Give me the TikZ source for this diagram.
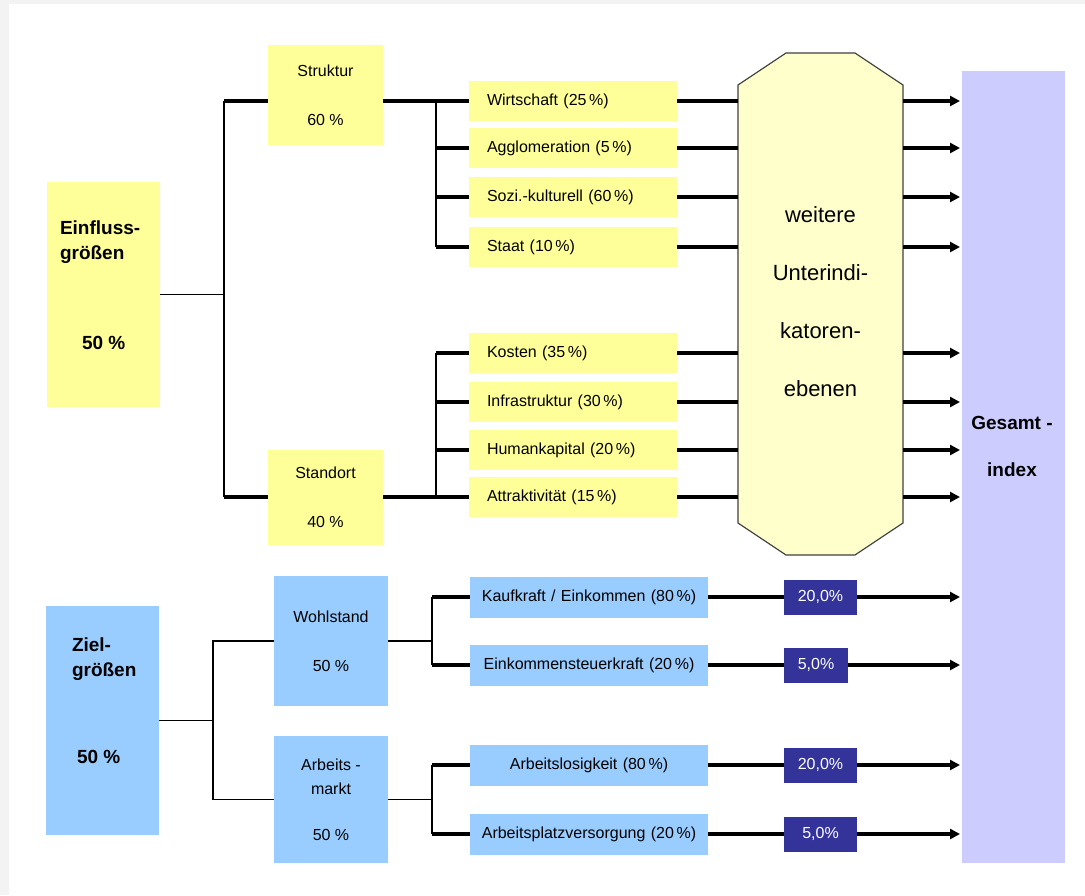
\documentclass[tikz,border=0pt]{standalone}
\usepackage{fontspec}
\setmainfont{Liberation Sans}
\usetikzlibrary{arrows.meta}
\definecolor{gelb}{HTML}{FFFF99}
\definecolor{hellgelb}{HTML}{FFFFCC}
\definecolor{hellblau}{HTML}{99CCFF}
\definecolor{lila}{HTML}{CCCCFF}
\definecolor{dunkelblau}{HTML}{333399}
\definecolor{rahmen}{HTML}{F3F3F3}
\begin{document}
\begin{tikzpicture}[
        x=1pt, y=-1pt,
        kasten/.style={inner sep=0pt, outer sep=0pt},
        haupt/.style={kasten, minimum width=113pt},
        mittel/.style={kasten, minimum width=115pt, align=center,
          font=\fontsize{16}{49}\selectfont},
        unterkasten/.style={kasten, fill=gelb, minimum height=40pt,
          text width=172pt, inner xsep=18pt, align=left,
          font=\fontsize{16}{19}\selectfont},
        blauunter/.style={kasten, fill=hellblau, minimum height=41pt,
          text width=230pt, inner xsep=4pt, align=center,
          font=\fontsize{16}{19}\selectfont},
        anteil/.style={kasten, fill=dunkelblau, text=white,
          minimum width=73pt, minimum height=35pt,
          font=\fontsize{16}{19}\selectfont},
        fett/.style={kasten, anchor=west, align=left,
          font=\bfseries\fontsize{19}{25}\selectfont},
        dick/.style={line width=3.2pt},
        duenn/.style={line width=1.6pt},
        pfeil/.style={dick, -{Triangle[length=10pt,width=10pt]}, shorten >=2pt}]
        % 画布与背景
        \useasboundingbox (0,0) rectangle (1085,895);
        \fill[rahmen] (0,0) rectangle (1085,895);
        \fill[white] (9,4) rectangle (1085,895);
        % 左侧两个主框
        \node[haupt, fill=gelb, minimum height=225pt] (einfluss) at (103.5,294.5) {};
        \node[fett] (einflusstext) at (60,285) {Einfluss-\\größen\\[65pt]\hspace*{22pt}50 \%};
        \node[haupt, fill=hellblau, minimum height=229pt] (ziel) at (102.5,720.5) {};
        \node[fett] (zieltext) at (72,701) {Ziel-\\größen\\[62pt]\hspace*{5pt}50 \%};
        % 第二层
        \node[mittel, fill=gelb, minimum height=100pt] (struktur) at (325.5,95) {Struktur\\60 \%};
        \node[mittel, fill=gelb, minimum height=95pt] (standort) at (325.5,497.5) {Standort\\40 \%};
        \node[mittel, fill=hellblau, minimum width=114pt, minimum height=130pt] (wohlstand) at (331,641) {Wohlstand\\50 \%};
        \node[mittel, fill=hellblau, minimum width=114pt, minimum height=127pt,
          font=\fontsize{16}{24}\selectfont] (arbeitsmarkt) at (331,799.5) {Arbeits -\\markt\\[22pt]50 \%};
        % 第三层
        \node[unterkasten] (wirt) at (573,101) {Wirtschaft (25\,\%)};
        \node[unterkasten] (agglo) at (573,148) {Agglomeration (5\,\%)};
        \node[unterkasten] (sozi) at (573,197) {Sozi.-kulturell (60\,\%)};
        \node[unterkasten] (staat) at (573,247) {Staat (10\,\%)};
        \node[unterkasten] (kosten) at (573,353) {Kosten (35\,\%)};
        \node[unterkasten] (infra) at (573,402) {Infrastruktur (30\,\%)};
        \node[unterkasten] (human) at (573,450) {Humankapital (20\,\%)};
        \node[unterkasten] (attr) at (573,497) {Attraktivität (15\,\%)};
        \node[blauunter] (kauf) at (589,597) {Kaufkraft / Einkommen (80\,\%)};
        \node[blauunter] (einkst) at (589,665) {Einkommensteuerkraft (20\,\%)};
        \node[blauunter] (alos) at (589,765) {Arbeitslosigkeit (80\,\%)};
        \node[blauunter] (aplatz) at (589,834) {Arbeitsplatzversorgung (20\,\%)};
        % 深蓝色权重
        \node[anteil] (a1) at (820.5,597) {20,0\%};
        \node[anteil, minimum width=64pt] (a2) at (816,665) {5,0\%};
        \node[anteil] (a3) at (820.5,765) {20,0\%};
        \node[anteil] (a4) at (820.5,834) {5,0\%};
        % 八边形
        \draw[fill=hellgelb, draw=black!75, line width=1.2pt]
          (738,85) -- (786,53) -- (855,53) -- (903,85) -- (903,523)
          -- (855,555) -- (786,555) -- (738,523) -- cycle;
        \coordinate (octW) at (738,304);
        \coordinate (octE) at (903,304);
        \node[kasten, align=center, font=\fontsize{22}{58}\selectfont] (ebenen) at (820.5,302)
          {weitere\\Unterindi-\\katoren-\\ebenen};
        % 总指数
        \node[kasten, fill=lila, minimum width=103pt, minimum height=792pt] (gesamt) at (1013.5,467) {};
        \node[kasten, align=center, font=\bfseries\fontsize{19}{47}\selectfont] (gesamttext) at (1012,446)
          {Gesamt -\\index};
        % 连接点
        \coordinate (ev) at (224,0);
        \coordinate (sv) at (436,0);
        \coordinate (zv) at (213,0);
        \coordinate (wv) at (432,0);
        % 上半部分连线
        \draw[duenn] (einfluss.east) -- (einfluss.east -| ev)
          (ev |- wirt.west) -- (ev |- attr.west)
          (sv |- wirt.west) -- (sv |- staat.west)
          (sv |- kosten.west) -- (sv |- attr.west);
        \draw[dick] (ev |- wirt.west) -- (struktur.west |- wirt.west)
          (ev |- attr.west) -- (standort.west |- attr.west)
          (struktur.east |- wirt.west) -- (wirt.west)
          (sv |- agglo.west) -- (agglo.west)
          (sv |- sozi.west) -- (sozi.west)
          (sv |- staat.west) -- (staat.west)
          (standort.east |- attr.west) -- (attr.west)
          (sv |- kosten.west) -- (kosten.west)
          (sv |- infra.west) -- (infra.west)
          (sv |- human.west) -- (human.west);
        \draw[dick] (wirt.east) -- (wirt.east -| octW)
          (agglo.east) -- (agglo.east -| octW)
          (sozi.east) -- (sozi.east -| octW)
          (staat.east) -- (staat.east -| octW)
          (kosten.east) -- (kosten.east -| octW)
          (infra.east) -- (infra.east -| octW)
          (human.east) -- (human.east -| octW)
          (attr.east) -- (attr.east -| octW);
        \draw[pfeil] (wirt.east -| octE) -- (wirt.east -| gesamt.west);
        \draw[pfeil] (agglo.east -| octE) -- (agglo.east -| gesamt.west);
        \draw[pfeil] (sozi.east -| octE) -- (sozi.east -| gesamt.west);
        \draw[pfeil] (staat.east -| octE) -- (staat.east -| gesamt.west);
        \draw[pfeil] (kosten.east -| octE) -- (kosten.east -| gesamt.west);
        \draw[pfeil] (infra.east -| octE) -- (infra.east -| gesamt.west);
        \draw[pfeil] (human.east -| octE) -- (human.east -| gesamt.west);
        \draw[pfeil] (attr.east -| octE) -- (attr.east -| gesamt.west);
        % 下半部分连线
        \draw[duenn] (ziel.east) -- (ziel.east -| zv)
          (wohlstand.west) -- (wohlstand.west -| zv) -- (arbeitsmarkt.west -| zv) -- (arbeitsmarkt.west)
          (wohlstand.east) -- (wohlstand.east -| wv)
          (wv |- kauf.west) -- (wv |- einkst.west)
          (arbeitsmarkt.east) -- (arbeitsmarkt.east -| wv)
          (wv |- alos.west) -- (wv |- aplatz.west);
        \draw[dick] (wv |- kauf.west) -- (kauf.west)
          (wv |- einkst.west) -- (einkst.west)
          (wv |- alos.west) -- (alos.west)
          (wv |- aplatz.west) -- (aplatz.west)
          (kauf.east) -- (a1.west)
          (einkst.east) -- (a2.west)
          (alos.east) -- (a3.west)
          (aplatz.east) -- (a4.west);
        \draw[pfeil] (a1.east) -- (a1.east -| gesamt.west);
        \draw[pfeil] (a2.east) -- (a2.east -| gesamt.west);
        \draw[pfeil] (a3.east) -- (a3.east -| gesamt.west);
        \draw[pfeil] (a4.east) -- (a4.east -| gesamt.west);
      \end{tikzpicture}
\end{document}
